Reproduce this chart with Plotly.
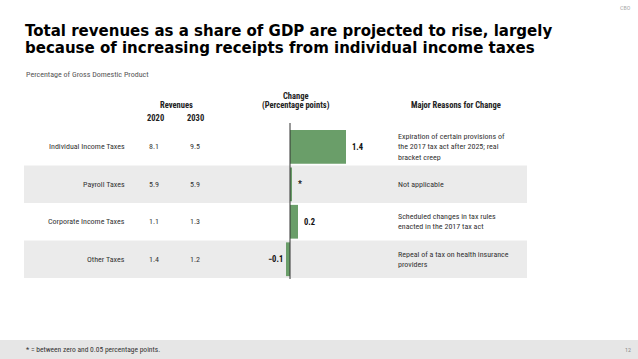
import plotly.graph_objects as go

categories = ["Individual Income Taxes", "Payroll Taxes", "Corporate Income Taxes", "Other Taxes"]
rev_2020 = ["8.1", "5.9", "1.1", "1.4"]
rev_2030 = ["9.5", "5.9", "1.3", "1.2"]
change = [1.4, 0.04, 0.2, -0.1]
change_labels = ["1.4", "*", "0.2", "\u22120.1"]
reasons = [
    "Expiration of certain provisions of<br>the 2017 tax act after 2025; real<br>bracket creep",
    "Not applicable",
    "Scheduled changes in tax rules<br>enacted in the 2017 tax act",
    "Repeal of a tax on health insurance<br>providers",
]

W, H = 638, 359
NARROW = "Liberation Sans Narrow, Roboto Condensed, Arial Narrow, Liberation Sans, sans-serif"
TITLE = "DejaVu Sans, Liberation Sans, Arial, sans-serif"
GREEN = "#6a9e69"

def px(x):
    return x / W

def py(y):
    return 1 - y / H

fig = go.Figure()
fig.add_trace(go.Bar(
    x=change, y=categories, orientation="h",
    marker=dict(color=GREEN, line=dict(width=0)),
    width=0.9, hoverinfo="skip",
))

shapes = []
# grey row bands
for i in (1, 3):
    shapes.append(dict(type="rect", xref="paper", yref="y", x0=px(24), x1=px(527),
                       y0=i - 0.5, y1=i + 0.5, fillcolor="#ebebeb", line=dict(width=0), layer="below"))
# zero line
shapes.append(dict(type="line", xref="x", yref="paper", x0=0, x1=0,
                   y0=py(279), y1=py(123), line=dict(color="#333333", width=1)))
# footer band
shapes.append(dict(type="rect", xref="paper", yref="paper", x0=0, x1=1, y0=0, y1=py(340),
                   fillcolor="#e6e6e6", line=dict(width=0), layer="below"))

ann = []
def a(x, y, text, size=8, color="#333333", family=NARROW, xanchor="center", yref="paper", xref="paper", align="left", pad=1):
    ann.append(dict(x=x, y=y, text=text, xref=xref, yref=yref, showarrow=False,
                    xanchor=xanchor, yanchor="middle", align=align, borderpad=pad,
                    font=dict(size=size, color=color, family=family)))

for i, cat in enumerate(categories):
    a(px(127), i, cat, xanchor="right", yref="y")
    a(px(154), i, rev_2020[i], yref="y")
    a(px(195), i, rev_2030[i], yref="y")
    a(px(396), i, reasons[i], xanchor="left", yref="y")
    v = change[i]
    lbl = "<b>" + change_labels[i] + "</b>"
    if v >= 0:
        ann.append(dict(x=v, y=i, xref="x", yref="y", text=lbl, showarrow=False,
                        xanchor="left", xshift=4, yanchor="middle",
                        font=dict(size=8.5, color="#111111", family=NARROW)))
    else:
        ann.append(dict(x=v, y=i, xref="x", yref="y", text=lbl, showarrow=False,
                        xanchor="right", xshift=-1, yanchor="middle",
                        font=dict(size=8.5, color="#111111", family=NARROW)))

# headers
HC = "#222222"
a(px(176), py(105), "<b>Revenues</b>", size=8.5, color=HC)
a(px(155), py(118), "<b>2020</b>", size=8.5, color=HC)
a(px(195), py(118), "<b>2030</b>", size=8.5, color=HC)
a(px(296), py(96), "<b>Change</b>", size=8.5, color=HC)
a(px(296), py(105), "<b>(Percentage points)</b>", size=8.5, color=HC)
a(px(456), py(105), "<b>Major Reasons for Change</b>", size=8.5, color=HC)

# title and subtitle
a(px(24), py(31), "<b>Total revenues as a share of GDP are projected to rise, largely</b>",
  size=15, color="#000000", family=TITLE, xanchor="left", pad=0)
a(px(24), py(48.5), "<b>because of increasing receipts from individual income taxes</b>",
  size=15, color="#000000", family=TITLE, xanchor="left", pad=0)
a(px(24), py(75), "Percentage of Gross Domestic Product", size=8, color="#555555", xanchor="left")

# footer
a(px(24), py(349), "* = between zero and 0.05 percentage points.", size=7.5, color="#333333", xanchor="left")
a(px(633), py(349), "12", size=6, color="#888888", xanchor="right")
a(px(633), py(8), "CBO", size=6, color="#aaaaaa", xanchor="right")

fig.update_layout(
    width=W, height=H, margin=dict(l=0, r=0, t=0, b=0),
    paper_bgcolor="white", plot_bgcolor="rgba(0,0,0,0)",
    showlegend=False, bargap=0.1,
    xaxis=dict(domain=[px(270), px(370)], range=[-0.5, 2.0], visible=False, fixedrange=True),
    yaxis=dict(domain=[py(278), py(128)], range=[3.5, -0.5], visible=False, fixedrange=True,
               categoryorder="array", categoryarray=categories),
    shapes=shapes, annotations=ann,
)

fig.write_html("out.html", config={"displayModeBar": False},
               post_script="document.body.style.margin='0';document.body.style.overflow='hidden';")
